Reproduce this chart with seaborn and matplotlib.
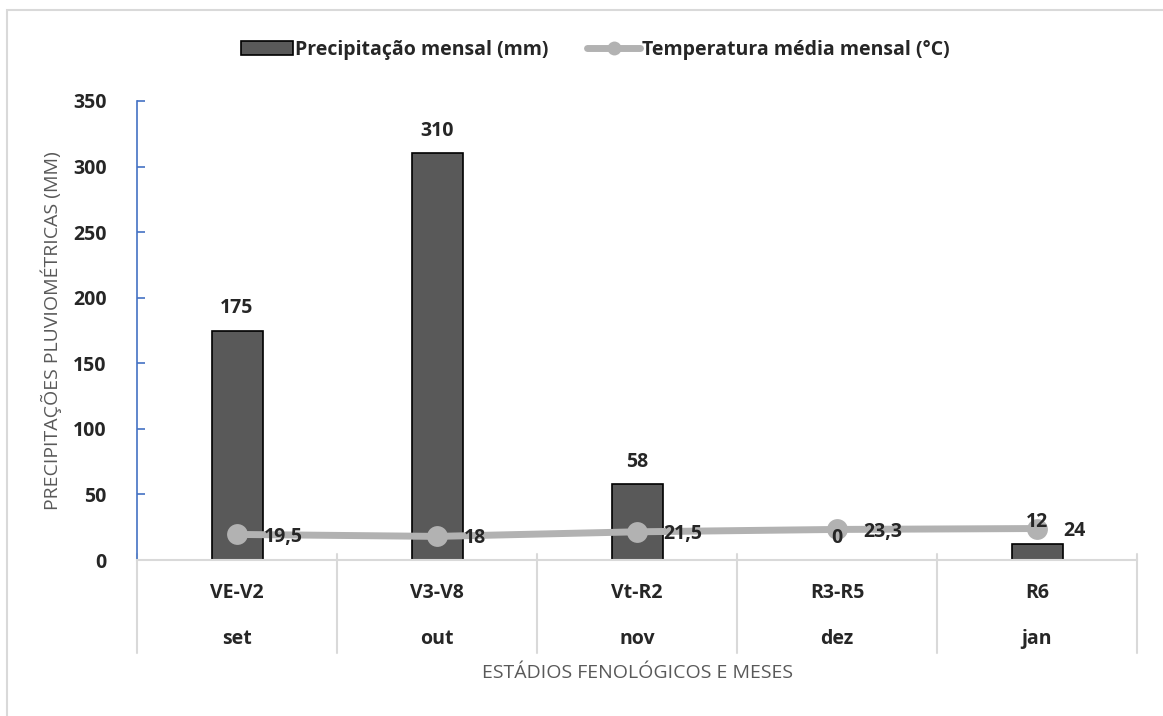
import numpy as np
import pandas as pd
import matplotlib
matplotlib.use('Agg')
import matplotlib.pyplot as plt
import matplotlib.transforms as mtransforms
from matplotlib import font_manager
from matplotlib.patches import Rectangle, Patch
from matplotlib.lines import Line2D
import seaborn as sns

# dados
estadios = ['VE-V2', 'V3-V8', 'Vt-R2', 'R3-R5', 'R6']
meses = ['set', 'out', 'nov', 'dez', 'jan']
precip = [175, 310, 58, 0, 12]
temp = [19.5, 18, 21.5, 23.3, 24]
temp_txt = ['19,5', '18', '21,5', '23,3', '24']

sns.set_style('white')

# primeira família que tem negrito de verdade
fonte = 'DejaVu Sans'
for fam in ['Open Sans', 'Lato', 'Noto Sans', 'Liberation Sans']:
    arq = font_manager.findfont(font_manager.FontProperties(family=fam, weight='bold'),
                                fallback_to_default=False)
    if 'bold' in arq.lower():
        fonte = fam
        break
plt.rcParams['font.family'] = [fonte, 'DejaVu Sans']

df = pd.DataFrame({'estadio': estadios, 'mes': meses, 'precip': precip, 'temp': temp})
df['pos'] = np.arange(len(df))

cor_barra = '#595959'
cor_linha = '#b2b2b2'
cinza_txt = '#595959'
cinza_eixo = '#d9d9d9'
fs = 14

fig = plt.figure(figsize=(11.63, 7.16), dpi=100)
ax = fig.add_axes([137/1163, 1-560/716, 1000/1163, 459/716])

sns.barplot(data=df, x='estadio', y='precip', ax=ax, color=cor_barra, width=0.255,
            edgecolor='black', linewidth=1.2, saturation=1)
sns.lineplot(data=df, x='pos', y='temp', ax=ax, color=cor_linha, linewidth=5,
             marker='o', markersize=15, markeredgewidth=0, zorder=5)

ax.set_xlim(-0.5, len(df) - 0.5)
ax.set_ylim(0, 350)
ax.set_yticks(range(0, 351, 50))
ax.set_xticks([])
ax.set_xlabel('')
ax.set_ylabel('PRECIPITAÇÕES PLUVIOMÉTRICAS (MM)', fontsize=14, color=cinza_txt, labelpad=8)
ax.tick_params(axis='y', direction='in', length=6, width=1.2, color='#4472c4', pad=22,
               labelsize=fs, left=True)
for lbl in ax.get_yticklabels():
    lbl.set_fontweight('bold')

for s in ['top', 'right']:
    ax.spines[s].set_visible(False)
ax.spines['left'].set_color('#4472c4')
ax.spines['left'].set_linewidth(1.2)
ax.spines['bottom'].set_color(cinza_eixo)
ax.spines['bottom'].set_linewidth(1.5)

# rótulos das barras
for i, v in enumerate(precip):
    ax.annotate(str(v), (i, v), xytext=(0, 16), textcoords='offset points',
                ha='center', va='center', fontsize=fs, fontweight='bold', zorder=7)
# rótulos da temperatura
for i, (v, t) in enumerate(zip(temp, temp_txt)):
    ax.annotate(t, (i, v), xytext=(19, -1.5), textcoords='offset points',
                ha='left', va='center', fontsize=fs, fontweight='bold', zorder=7)

# eixo x em dois níveis
trans = mtransforms.blended_transform_factory(ax.transData, ax.transAxes)
for i in range(len(df)):
    ax.text(i, -0.072, estadios[i], transform=trans, ha='center', va='center',
            fontsize=fs, fontweight='bold')
    ax.text(i, -0.172, meses[i], transform=trans, ha='center', va='center',
            fontsize=fs, fontweight='bold')
for xb in np.arange(-0.5, len(df), 1.0):
    ax.plot([xb, xb], [0.013, -0.2026], transform=trans, color=cinza_eixo,
            linewidth=1.5, clip_on=False)

fig.text(637/1163, 1-673/716, 'ESTÁDIOS FENOLÓGICOS E MESES', ha='center', va='center',
         fontsize=14, color=cinza_txt)

# legenda
handles = [Patch(facecolor=cor_barra, edgecolor='black', linewidth=1.2),
           Line2D([], [], color=cor_linha, linewidth=5, marker='o', markersize=10,
                  markeredgewidth=0)]
fig.legend(handles, ['Precipitação mensal (mm)', 'Temperatura média mensal (°C)'],
           loc='center', bbox_to_anchor=(595/1163, 1-50/716), ncol=2, frameon=False,
           handlelength=2.7, handleheight=0.75, handletextpad=0.1, columnspacing=2.0,
           prop={'weight': 'bold', 'size': fs})

# borda do gráfico
fig.patches.append(Rectangle((7/1163, -0.1), 1.2, 1.1 - 10/716, transform=fig.transFigure,
                             fill=False, edgecolor=cinza_eixo, linewidth=1.5))

fig.savefig('out.png', dpi=100)
